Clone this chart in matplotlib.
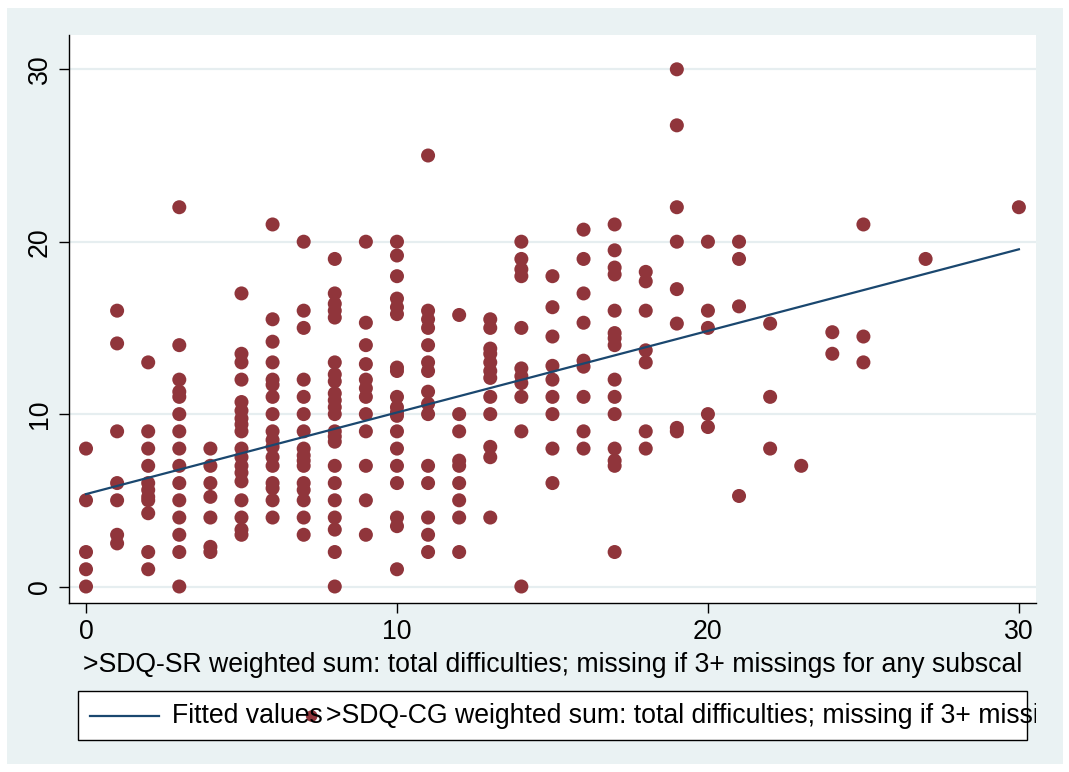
import matplotlib
matplotlib.use("Agg")
import matplotlib.pyplot as plt
from matplotlib.patches import Rectangle
from matplotlib.lines import Line2D
import numpy as np

plt.rcParams['font.family'] = ['Liberation Sans', 'DejaVu Sans']

# SDQ-SR total difficulties (x) and the SDQ-CG values observed at each x
sr_scores = [0, 1, 2, 3, 4, 5, 6, 7, 8, 9, 10, 11, 12, 13, 14, 15, 16, 17,
             18, 19, 20, 21, 22, 23, 24, 25, 27, 30]
cg_by_sr = [
    [8, 5, 2, 1, 0],
    [16, 14.1, 9, 6, 5, 3, 2.5],
    [13, 9, 8, 7, 6, 5.6, 5.2, 5, 4.25, 2, 1],
    [22, 14, 12, 11.3, 11, 10, 9, 8, 7, 6, 5, 4, 3, 2, 0],
    [8, 7, 6, 5.2, 4, 2.3, 2],
    [17, 13.5, 13, 12, 10.7, 10.2, 9.75, 9.4, 9, 8, 7.5, 7, 6.6, 6.1, 5, 4, 3.3, 3],
    [21, 15.5, 14.2, 13, 12, 11.7, 11, 10, 9, 8.5, 8.1, 7.5, 7, 6, 5.7, 5, 4],
    [20, 16, 15, 12, 11, 10, 9, 8, 7.6, 7.3, 7, 6, 5.6, 5, 4, 3],
    [19, 17, 16.4, 16, 15.6, 13, 12.3, 11.9, 11.2, 10.8, 10.4, 10, 9, 8.7, 8.4,
     7, 6, 5, 4, 3.3, 2, 0],
    [20, 15.3, 14, 12.9, 12, 11.5, 11, 10, 9, 7, 5, 3],
    [20, 19.2, 18, 16.7, 16.2, 15.8, 12.7, 12.5, 11, 10.4, 10.1, 9.9, 9, 8, 7,
     6, 4, 3.5, 1],
    [25, 16, 15.5, 15, 14, 13, 12.5, 11.3, 10.6, 10, 7, 6, 4, 3, 2],
    [15.75, 10, 9, 7.3, 7, 6, 5, 4, 2],
    [15.5, 15, 13.8, 13.5, 13, 12.5, 12.1, 11, 10, 8.1, 7.5, 4],
    [20, 19, 18.4, 18, 15, 12.65, 12.2, 11.8, 11, 9, 0],
    [18, 16.2, 14.5, 12.8, 12, 11, 10, 8, 6],
    [20.7, 19, 17, 15.3, 13.1, 12.75, 11, 9, 8],
    [21, 19.5, 18.5, 18.1, 16, 14.7, 14.4, 14, 12, 11, 10, 8, 7.3, 7, 2],
    [18.25, 17.7, 16, 13.7, 13, 9, 8],
    [30, 26.75, 22, 20, 17.25, 15.25, 9.2, 9],
    [20, 16, 15, 10, 9.25],
    [20, 19, 16.25, 5.25],
    [15.25, 11, 8],
    [7],
    [14.75, 13.5],
    [21, 14.5, 13],
    [19],
    [22],
]

# Fitted regression line end points
fit_x = [0, 30]
fit_y = [5.36, 19.56]

x_label = ">SDQ-SR weighted sum: total difficulties; missing if 3+ missings for any subscal"
fit_label = "Fitted values"
scatter_label = ">SDQ-CG weighted sum: total difficulties; missing if 3+ missings for any subscal"
y_ticks = [0, 10, 20, 30]
x_ticks = [0, 10, 20, 30]

marker_color = '#90353b'
line_color = '#1a476f'
bg_color = '#eaf2f3'
grid_color = '#e6eef0'
FS = 19.2

W, H = 1069, 772
fig = plt.figure(figsize=(W / 100, H / 100), dpi=100, facecolor='white')

# background layer in pixel coordinates
bg = fig.add_axes([0, 0, 1, 1], zorder=-1)
bg.set_xlim(0, W)
bg.set_ylim(H, 0)
bg.axis('off')
bg.add_patch(Rectangle((7, 8), 1056, 756, facecolor=bg_color, edgecolor='none'))

ax_l, ax_r, ax_t, ax_b = 69, 1036, 35, 603
ax = fig.add_axes([ax_l / W, (H - ax_b) / H, (ax_r - ax_l) / W, (ax_b - ax_t) / H])
ax.set_facecolor('white')

xs = np.concatenate([[s] * len(v) for s, v in zip(sr_scores, cg_by_sr)])
ys = np.concatenate([np.array(v, dtype=float) for v in cg_by_sr])
ax.scatter(xs, ys, s=102, color=marker_color, edgecolors='none', zorder=3)
ax.plot(fit_x, fit_y, color=line_color, lw=1.6, zorder=4)

ax.set_xlim(-0.547, 30.55)
ax.set_ylim(-0.957, 31.99)
ax.set_xticks(x_ticks)
ax.set_yticks(y_ticks)
ax.yaxis.grid(True, color=grid_color, lw=1.6)
ax.set_axisbelow(True)
for s in ['top', 'right']:
    ax.spines[s].set_visible(False)
for s in ['left', 'bottom']:
    ax.spines[s].set_linewidth(1.0)
    ax.spines[s].set_color('black')
ax.tick_params(axis='both', length=7.2, width=1.0, color='black', labelsize=FS)
ax.tick_params(axis='x', pad=4.5)
ax.tick_params(axis='y', pad=4.5, labelrotation=90)
plt.setp(ax.get_yticklabels(), va='center')
ax.set_xlabel(x_label, fontsize=FS, labelpad=5)

# legend box drawn in pixel coordinates
bg.add_patch(Rectangle((78, 690.7), 1027 - 78, 740 - 690.7, facecolor='white',
                       edgecolor='black', lw=1.0))
bg.add_line(Line2D([90, 159], [715.7, 715.7], color=line_color, lw=1.6))
bg.text(171.7, 716, fit_label, fontsize=FS, va='center', ha='left')
bg.scatter([311.7], [716], s=70, color=marker_color, edgecolors='none', zorder=1)
t = bg.text(325.7, 716, scatter_label, fontsize=FS, va='center', ha='left',
            zorder=3, clip_on=True)
clip = Rectangle((0, 0), 1036, H, transform=bg.transData)
t.set_clip_path(clip)

fig.savefig('out.png', dpi=100, facecolor='white')
